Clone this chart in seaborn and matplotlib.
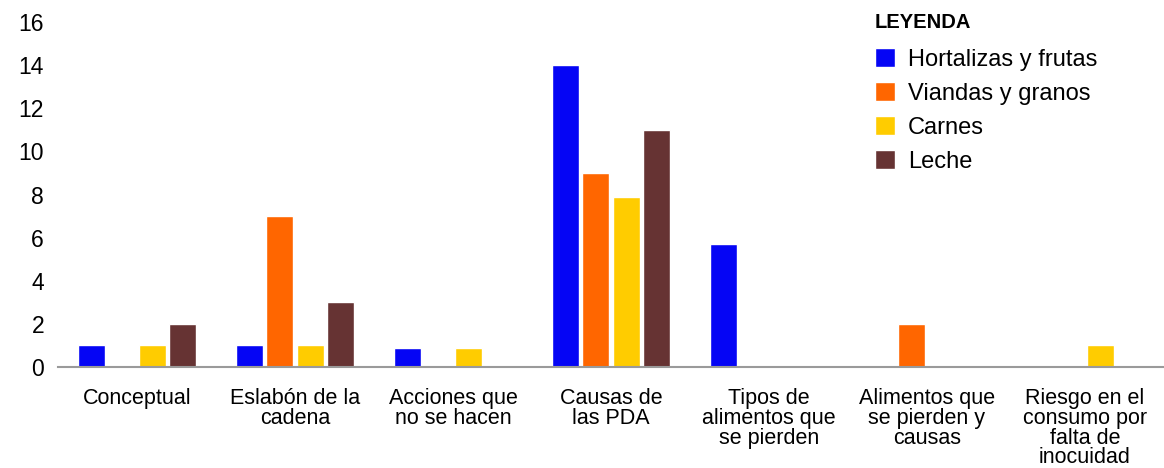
import matplotlib
matplotlib.use("Agg")
import matplotlib.pyplot as plt
import pandas as pd
import seaborn as sns

temas = ["Conceptual", "Eslabón de la\ncadena", "Acciones que\nno se hacen",
         "Causas de\nlas PDA", "Tipos de\nalimentos que\nse pierden",
         "Alimentos que\nse pierden y\ncausas", "Riesgo en el\nconsumo por\nfalta de\ninocuidad"]
grupos = ["Hortalizas y frutas", "Viandas y granos", "Carnes", "Leche"]
hortalizas = [1, 1, 0.9, 14, 5.7, 0, 0]
viandas = [0, 7, 0, 9, 0, 2, 0]
carnes = [1, 1, 0.9, 7.9, 0, 0, 1]
leche = [2, 3, 0, 11, 0, 0, 0]
colores = ["#0505F5", "#FF6600", "#FFCC00", "#663333"]

series = [hortalizas, viandas, carnes, leche]
filas = []
for g, vals in zip(grupos, series):
	for t, v in zip(temas, vals):
		filas.append({"tema": t, "grupo": g, "valor": v})
df = pd.DataFrame(filas)

sns.set_style("white")
plt.rcParams['font.family'] = ['Liberation Sans', 'DejaVu Sans']
plt.rcParams['text.color'] = 'black'
plt.rcParams['xtick.color'] = 'black'
plt.rcParams['ytick.color'] = 'black'

fig = plt.figure(figsize=(11.64, 4.68), dpi=100)
ax = fig.add_axes([58 / 1164, 1 - 367 / 468, 1 - 58 / 1164, (367 - 22) / 468])

sns.barplot(data=df, x="tema", y="valor", hue="grupo", palette=colores,
	width=0.76, gap=0.1, saturation=1, ax=ax, legend=True)

ax.set_ylim(0, 16)
ax.set_xlim(-0.5, 6.5)
ax.set_yticks(range(0, 17, 2))
ax.set_xlabel("")
ax.set_ylabel("")
ax.tick_params(axis="y", length=0, pad=10, labelsize=16.5)
ax.tick_params(axis="x", length=0, pad=15, labelsize=15.5)
for lbl in ax.get_xticklabels():
	lbl.set_linespacing(0.93)
	lbl.set_verticalalignment("top")

for s in ["top", "right", "left"]:
	ax.spines[s].set_visible(False)
ax.spines["bottom"].set_color("#9a9a9a")
ax.spines["bottom"].set_linewidth(1.5)

leg = ax.legend(title="LEYENDA", loc="upper left", bbox_to_anchor=(863 / 1164, 1 - 1 / 468),
	bbox_transform=fig.transFigure, frameon=False, fontsize=17, borderpad=0,
	handlelength=0.85, handleheight=0.85, handletextpad=0.55, labelspacing=0.48,
	title_fontproperties={"weight": "bold", "size": 14.5})
leg._legend_box.align = "left"
leg._legend_box.sep = 12

plt.savefig("out.png", dpi=100)
